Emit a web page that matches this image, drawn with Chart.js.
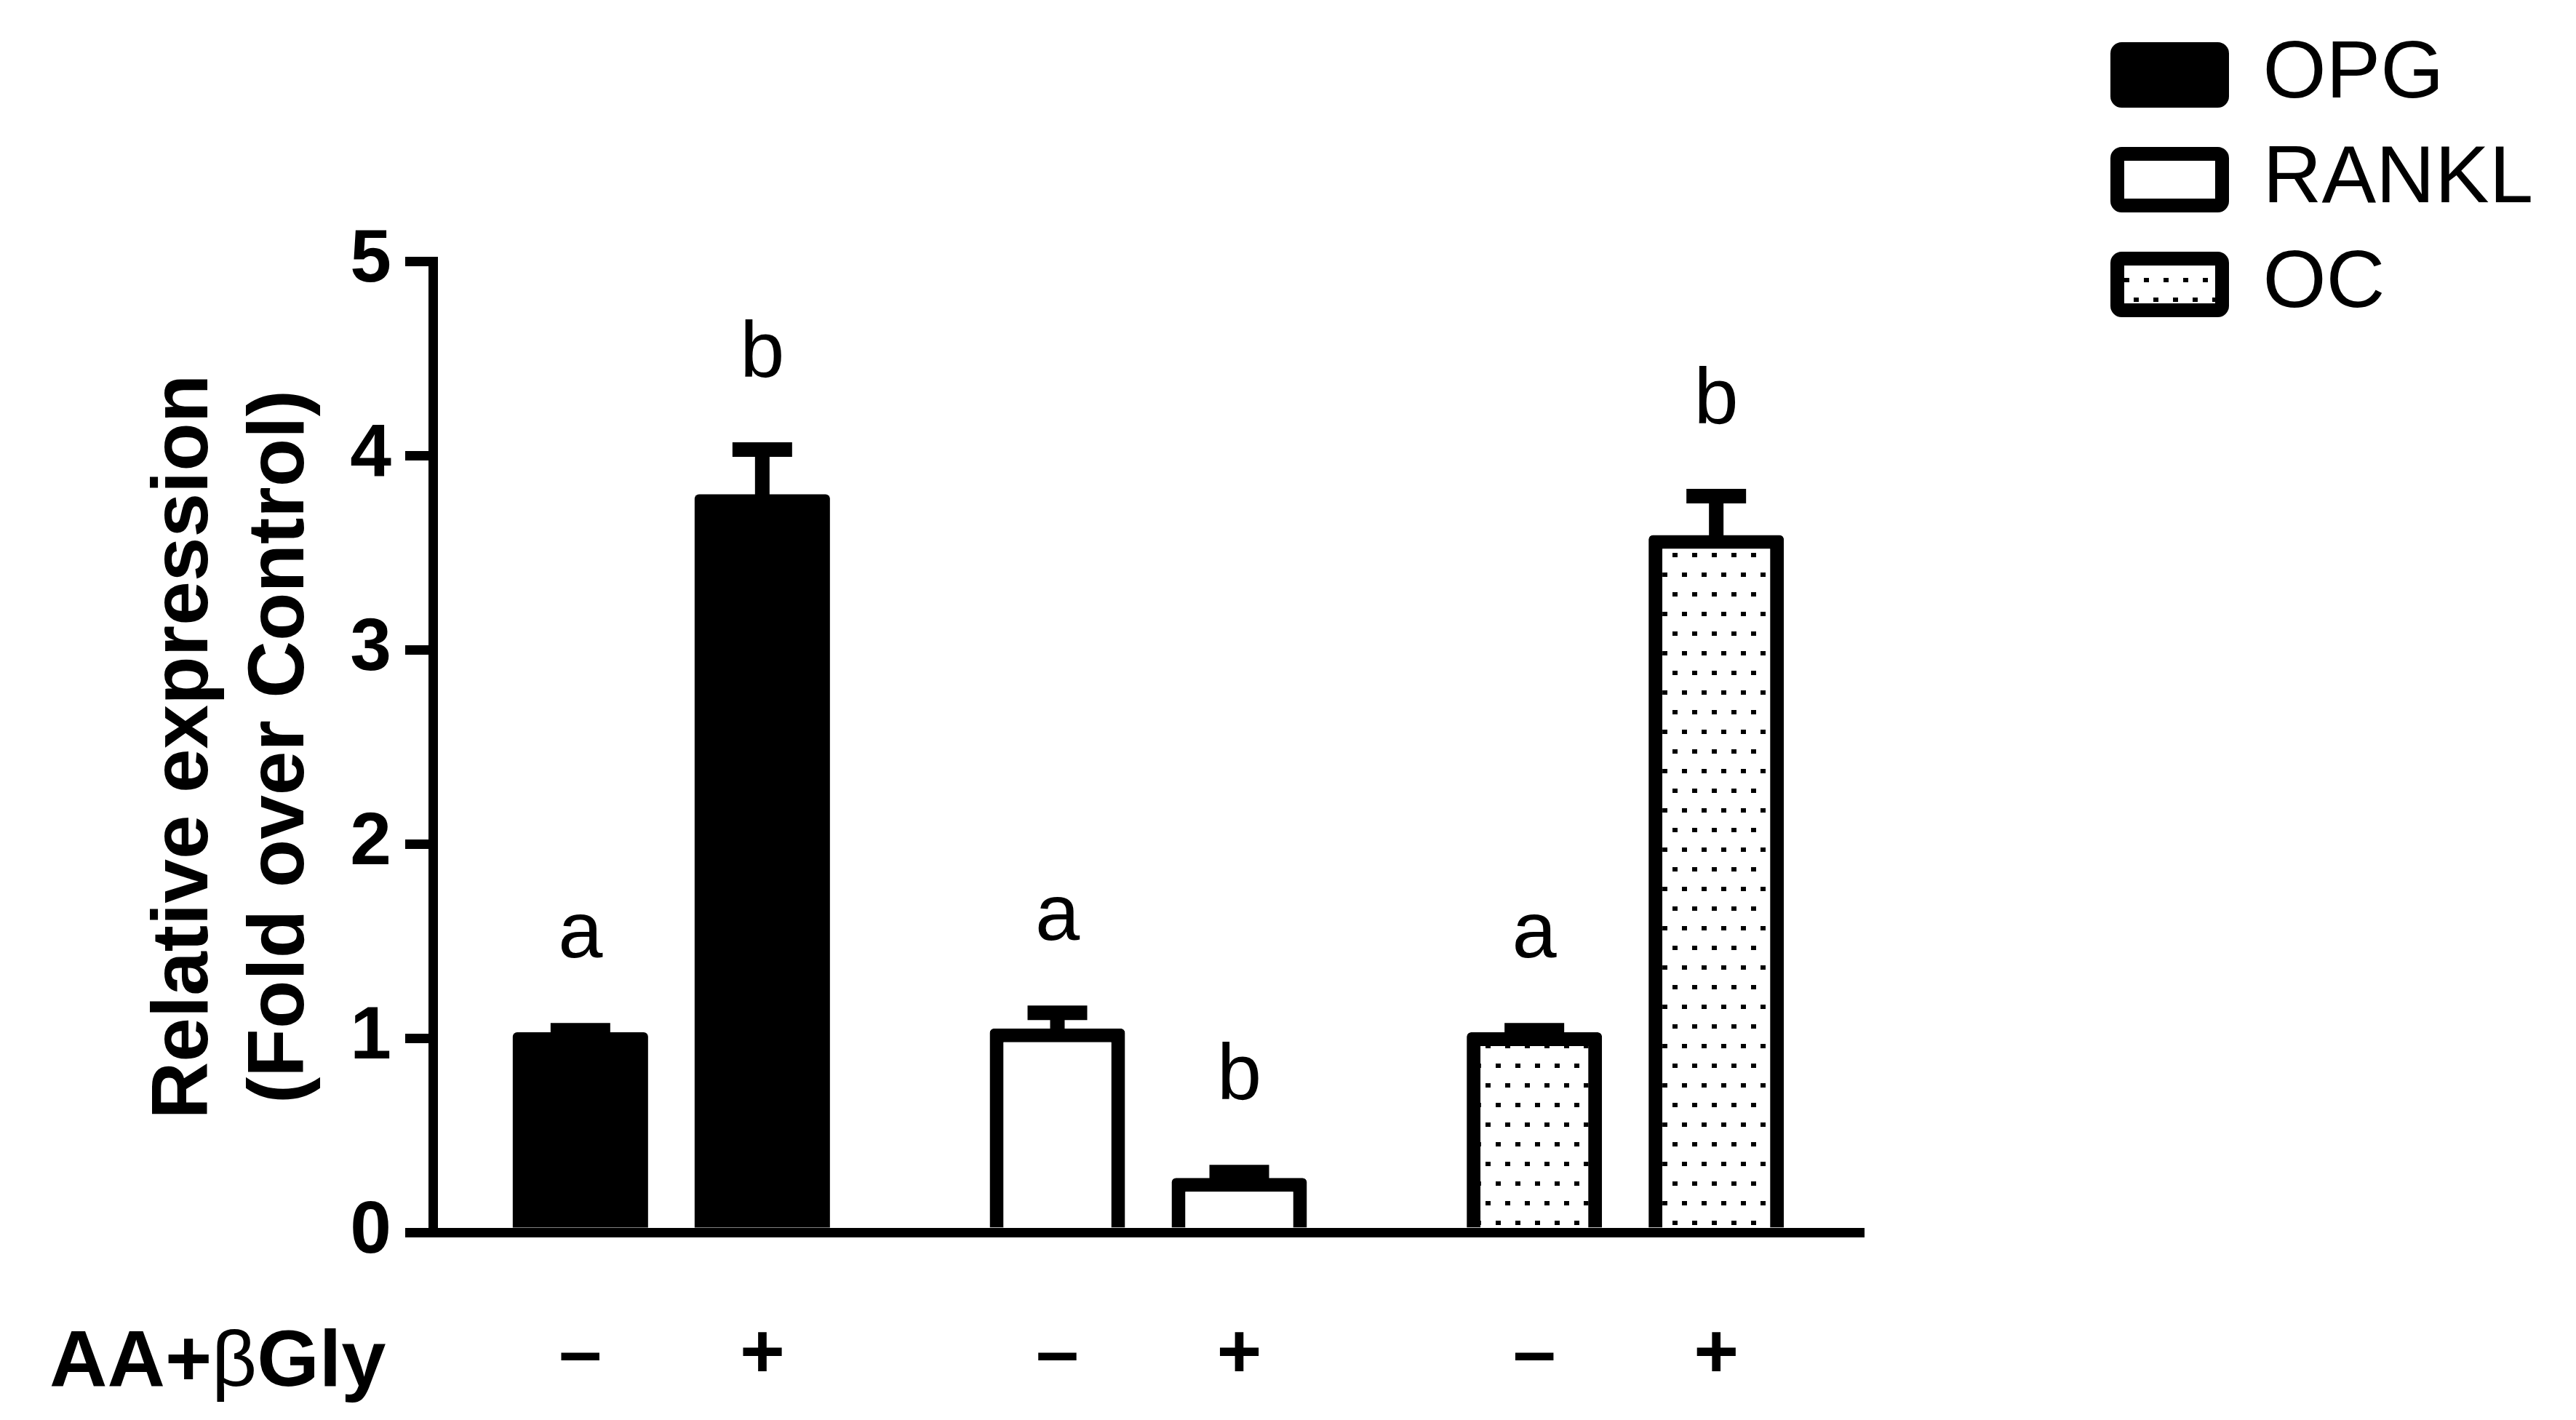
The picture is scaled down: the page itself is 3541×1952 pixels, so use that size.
<!DOCTYPE html>
<html>
<head>
<meta charset="utf-8">
<script src="https://cdn.jsdelivr.net/npm/chart.js@4.4.1/dist/chart.umd.min.js"></script>
<style>
  html, body { margin: 0; padding: 0; background: #fff; }
  #wrap { width: 3541px; height: 1952px; }
</style>
</head>
<body>
<div id="wrap"><canvas id="chart" width="3541" height="1952"></canvas></div>
<script>
// data
const groups = ['OPG', 'RANKL', 'OC'];
const treatment = ['–', '+'];
const controlMean = [1.03, 1.05, 1.03];
const treatedMean = [3.80, 0.28, 3.59];
const controlErr = [0.01, 0.08, 0.01];
const treatedErr = [0.23, 0.03, 0.20];
const controlLetters = ['a', 'a', 'a'];
const treatedLetters = ['b', 'b', 'b'];
const yTicks = [0, 1, 2, 3, 4, 5];
const yTitle = ['Relative expression', '(Fold over Control)'];
const rowLabel = ['AA+', 'β', 'Gly'];

const FONT = "'Liberation Sans', Arial, sans-serif";
const LINE = 19;

Chart.defaults.font.family = FONT;
Chart.defaults.color = '#000';

const canvas = document.getElementById('chart');

// dotted fill used for OC
function dotPattern() {
    const c = document.createElement('canvas');
    c.width = 54;
    c.height = 54;
    const g = c.getContext('2d');
    g.fillStyle = '#fff';
    g.fillRect(0, 0, 54, 54);
    g.fillStyle = '#000';
    [[4, 4], [31, 4], [17, 31], [44, 31]].forEach(p => g.fillRect(p[0], p[1], 7, 6));
    return canvas.getContext('2d').createPattern(c, 'repeat');
}

const fills = ['#000', '#fff', dotPattern()];
// solid black bars need no outline (avoids a seam between fill and border)
const borders = [0, LINE, LINE];

// error bars, letters and the AA+βGly row
const extras = {
    id: 'extras',
    afterDatasetsDraw(chart) {
        const ctx = chart.ctx;
        const y = chart.scales.y;
        const means = [controlMean, treatedMean];
        const errs = [controlErr, treatedErr];
        const letters = [controlLetters, treatedLetters];
        const base = chart.chartArea.bottom;

        ctx.save();
        ctx.strokeStyle = '#000';
        ctx.fillStyle = '#000';
        ctx.lineCap = 'butt';

        for (let d = 0; d < means.length; d++) {
            chart.getDatasetMeta(d).data.forEach((bar, i) => {
                const top = y.getPixelForValue(means[d][i]);
                const end = y.getPixelForValue(means[d][i] + errs[d][i]);

                ctx.lineWidth = 20;
                ctx.beginPath();
                ctx.moveTo(bar.x, top + 2);
                ctx.lineTo(bar.x, end);
                ctx.moveTo(bar.x - 41, end);
                ctx.lineTo(bar.x + 41, end);
                ctx.stroke();

                ctx.font = '110px ' + FONT;
                ctx.textAlign = 'center';
                ctx.textBaseline = 'alphabetic';
                ctx.fillText(letters[d][i], bar.x, end - 100);

                ctx.font = 'bold 106px ' + FONT;
                ctx.textBaseline = 'middle';
                ctx.fillText(treatment[d], bar.x, base + 170);
            });
        }

        // row label, beta in regular weight
        ctx.textAlign = 'left';
        ctx.textBaseline = 'alphabetic';
        let x = 68;
        const ly = base + 211;
        ctx.font = 'bold 110px ' + FONT;
        ctx.fillText(rowLabel[0], x, ly);
        x += ctx.measureText(rowLabel[0]).width;
        ctx.font = '108px ' + FONT;
        ctx.fillText(rowLabel[1], x, ly);
        x += ctx.measureText(rowLabel[1]).width;
        ctx.font = 'bold 110px ' + FONT;
        ctx.fillText(rowLabel[2], x, ly);

        ctx.restore();
    }
};

new Chart(canvas, {
    type: 'bar',
    data: {
        labels: groups,
        datasets: treatment.map((t, d) => ({
            label: t,
            data: d === 0 ? controlMean : treatedMean,
            backgroundColor: fills,
            borderColor: '#000',
            borderWidth: borders,
            borderRadius: 6,
            categoryPercentage: 0.7626,
            barPercentage: 0.744
        }))
    },
    options: {
        responsive: false,
        animation: false,
        devicePixelRatio: 1,
        layout: {
            padding: { top: 15, left: 20, right: 62.5, bottom: 0 }
        },
        plugins: {
            // empty title only reserves the space above the plot
            title: {
                display: true,
                text: '',
                font: { size: 10, lineHeight: 1 },
                padding: { top: 0, bottom: 334 }
            },
            legend: {
                position: 'right',
                align: 'start',
                maxWidth: 600,
                onClick: () => {},
                labels: {
                    boxWidth: 144,
                    boxHeight: 71,
                    padding: 32,
                    color: '#000',
                    font: { size: 112, family: FONT },
                    useBorderRadius: true,
                    borderRadius: 6,
                    generateLabels: () => groups.map((g, i) => ({
                        text: g,
                        fillStyle: fills[i],
                        strokeStyle: '#000',
                        lineWidth: LINE,
                        fontColor: '#000',
                        borderRadius: 6,
                        hidden: false,
                        index: i
                    }))
                }
            },
            tooltip: { enabled: false }
        },
        scales: {
            x: {
                z: 1,
                grid: { display: false },
                border: { color: '#000', width: 13 },
                ticks: { display: false },
                afterFit(s) { s.height = 258; }
            },
            y: {
                min: 0,
                max: 5,
                afterBuildTicks(s) { s.ticks = yTicks.map(v => ({ value: v })); },
                grid: {
                    drawOnChartArea: false,
                    drawTicks: true,
                    tickLength: 38,
                    lineWidth: 13,
                    color: '#000'
                },
                border: { color: '#000', width: 13 },
                ticks: {
                    color: '#000',
                    padding: 19,
                    font: { size: 102, weight: 'bold', family: FONT }
                },
                title: {
                    display: true,
                    text: yTitle,
                    color: '#000',
                    font: { size: 109, weight: 'bold', family: FONT, lineHeight: 1.21 },
                    padding: { top: 169, bottom: 0 }
                },
                afterFit(s) { s.width = 575; }
            },
            // spacer between the plot and the legend
            y2: {
                position: 'right',
                grid: { display: false },
                border: { display: false },
                ticks: { display: false },
                afterFit(s) { s.width = 316.5; }
            }
        }
    },
    plugins: [extras]
});
</script>
</body>
</html>
